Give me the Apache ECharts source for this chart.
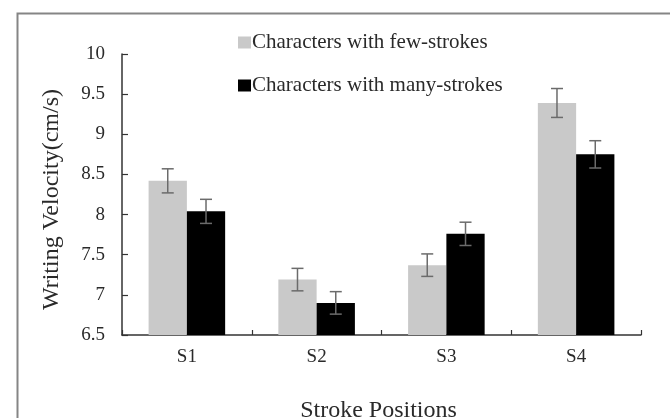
<!DOCTYPE html>
<html>
<head>
<meta charset="utf-8">
<script src="https://cdn.jsdelivr.net/npm/echarts@6/dist/echarts.min.js"></script>
<style>
html,body{margin:0;padding:0;background:#fff;}
#chart{width:670px;height:418px;}
</style>
</head>
<body>
<div id="chart"></div>
<script>
const categories = ['S1', 'S2', 'S3', 'S4'];
const fewValues = [8.42, 7.19, 7.37, 9.39];
const fewErrors = [0.15, 0.14, 0.14, 0.18];
const manyValues = [8.04, 6.90, 7.76, 8.75];
const manyErrors = [0.15, 0.14, 0.145, 0.17];
const seriesNames = ['Characters with few-strokes', 'Characters with many-strokes'];
const yTicks = {min: 6.5, max: 10, interval: 0.5};

const FONT = 'Liberation Serif';
const BAR_FRACTION = 0.59;

function errorSeries(values, errors, side) {
  return {
    type: 'custom',
    silent: true,
    z: 5,
    data: values.map((v, i) => [i, v, errors[i]]),
    renderItem: function (params, api) {
      const idx = api.value(0);
      const v = api.value(1);
      const e = api.value(2);
      const band = api.size([1, 0])[0];
      const barW = band * BAR_FRACTION / 2;
      const top = api.coord([idx, v + e]);
      const bot = api.coord([idx, v - e]);
      const x = top[0] + side * barW / 2;
      const cap = 6;
      const style = {stroke: '#6b6b6b', lineWidth: 1.5, fill: null};
      return {
        type: 'group',
        children: [
          {type: 'line', shape: {x1: x, y1: top[1], x2: x, y2: bot[1]}, style: style},
          {type: 'line', shape: {x1: x - cap, y1: top[1], x2: x + cap, y2: top[1]}, style: style},
          {type: 'line', shape: {x1: x - cap, y1: bot[1], x2: x + cap, y2: bot[1]}, style: style}
        ]
      };
    }
  };
}

const chart = echarts.init(document.getElementById('chart'), null, {renderer: 'canvas'});
chart.setOption({
  animation: false,
  backgroundColor: '#fff',
  textStyle: {fontFamily: FONT},
  graphic: [{
    type: 'rect',
    left: 15, top: 11,
    shape: {x: 0, y: 0, width: 700, height: 450},
    style: {fill: 'none', stroke: '#858585', lineWidth: 2},
    silent: true
  }],
  legend: {
    orient: 'vertical',
    left: 233, top: 27,
    itemWidth: 13, itemHeight: 12,
    itemGap: 22,
    icon: 'rect',
    data: seriesNames,
    textStyle: {fontFamily: FONT, fontSize: 21, color: '#2a2a2a', padding: [0, 0, 0, -4]}
  },
  grid: {left: 122, right: 29, top: 54, bottom: 83, containLabel: false, outerBoundsMode: 'none'},
  xAxis: {
    type: 'category',
    data: categories,
    name: 'Stroke Positions',
    nameLocation: 'middle',
    nameGap: 64,
    nameTextStyle: {fontFamily: FONT, fontSize: 24, color: '#2a2a2a', padding: [0, 6, 0, 0]},
    axisLine: {lineStyle: {color: '#333', width: 1.5}},
    axisTick: {show: true, inside: true, length: 5, alignWithLabel: false, lineStyle: {color: '#333', width: 1.2}},
    axisLabel: {fontFamily: FONT, fontSize: 19, color: '#2a2a2a', margin: 13},
    splitLine: {show: false}
  },
  yAxis: {
    type: 'value',
    min: yTicks.min, max: yTicks.max, interval: yTicks.interval,
    name: 'Writing Velocity(cm/s)',
    nameLocation: 'middle',
    nameGap: 58,
    nameRotate: 90,
    nameTextStyle: {fontFamily: FONT, fontSize: 24, color: '#2a2a2a', padding: [0, 0, 0, -10]},
    axisLine: {show: true, lineStyle: {color: '#333', width: 1.5}},
    axisTick: {show: true, inside: true, length: 6, lineStyle: {color: '#333', width: 1.2}},
    axisLabel: {fontFamily: FONT, fontSize: 19, color: '#2a2a2a', margin: 17},
    splitLine: {show: false}
  },
  series: [
    {
      name: seriesNames[0], type: 'bar', data: fewValues,
      itemStyle: {color: '#c9c9c9'},
      barGap: '0%', barCategoryGap: '41%'
    },
    {
      name: seriesNames[1], type: 'bar', data: manyValues,
      itemStyle: {color: '#000000'},
      barGap: '0%', barCategoryGap: '41%'
    },
    errorSeries(fewValues, fewErrors, -1),
    errorSeries(manyValues, manyErrors, 1)
  ]
});
</script>
</body>
</html>
